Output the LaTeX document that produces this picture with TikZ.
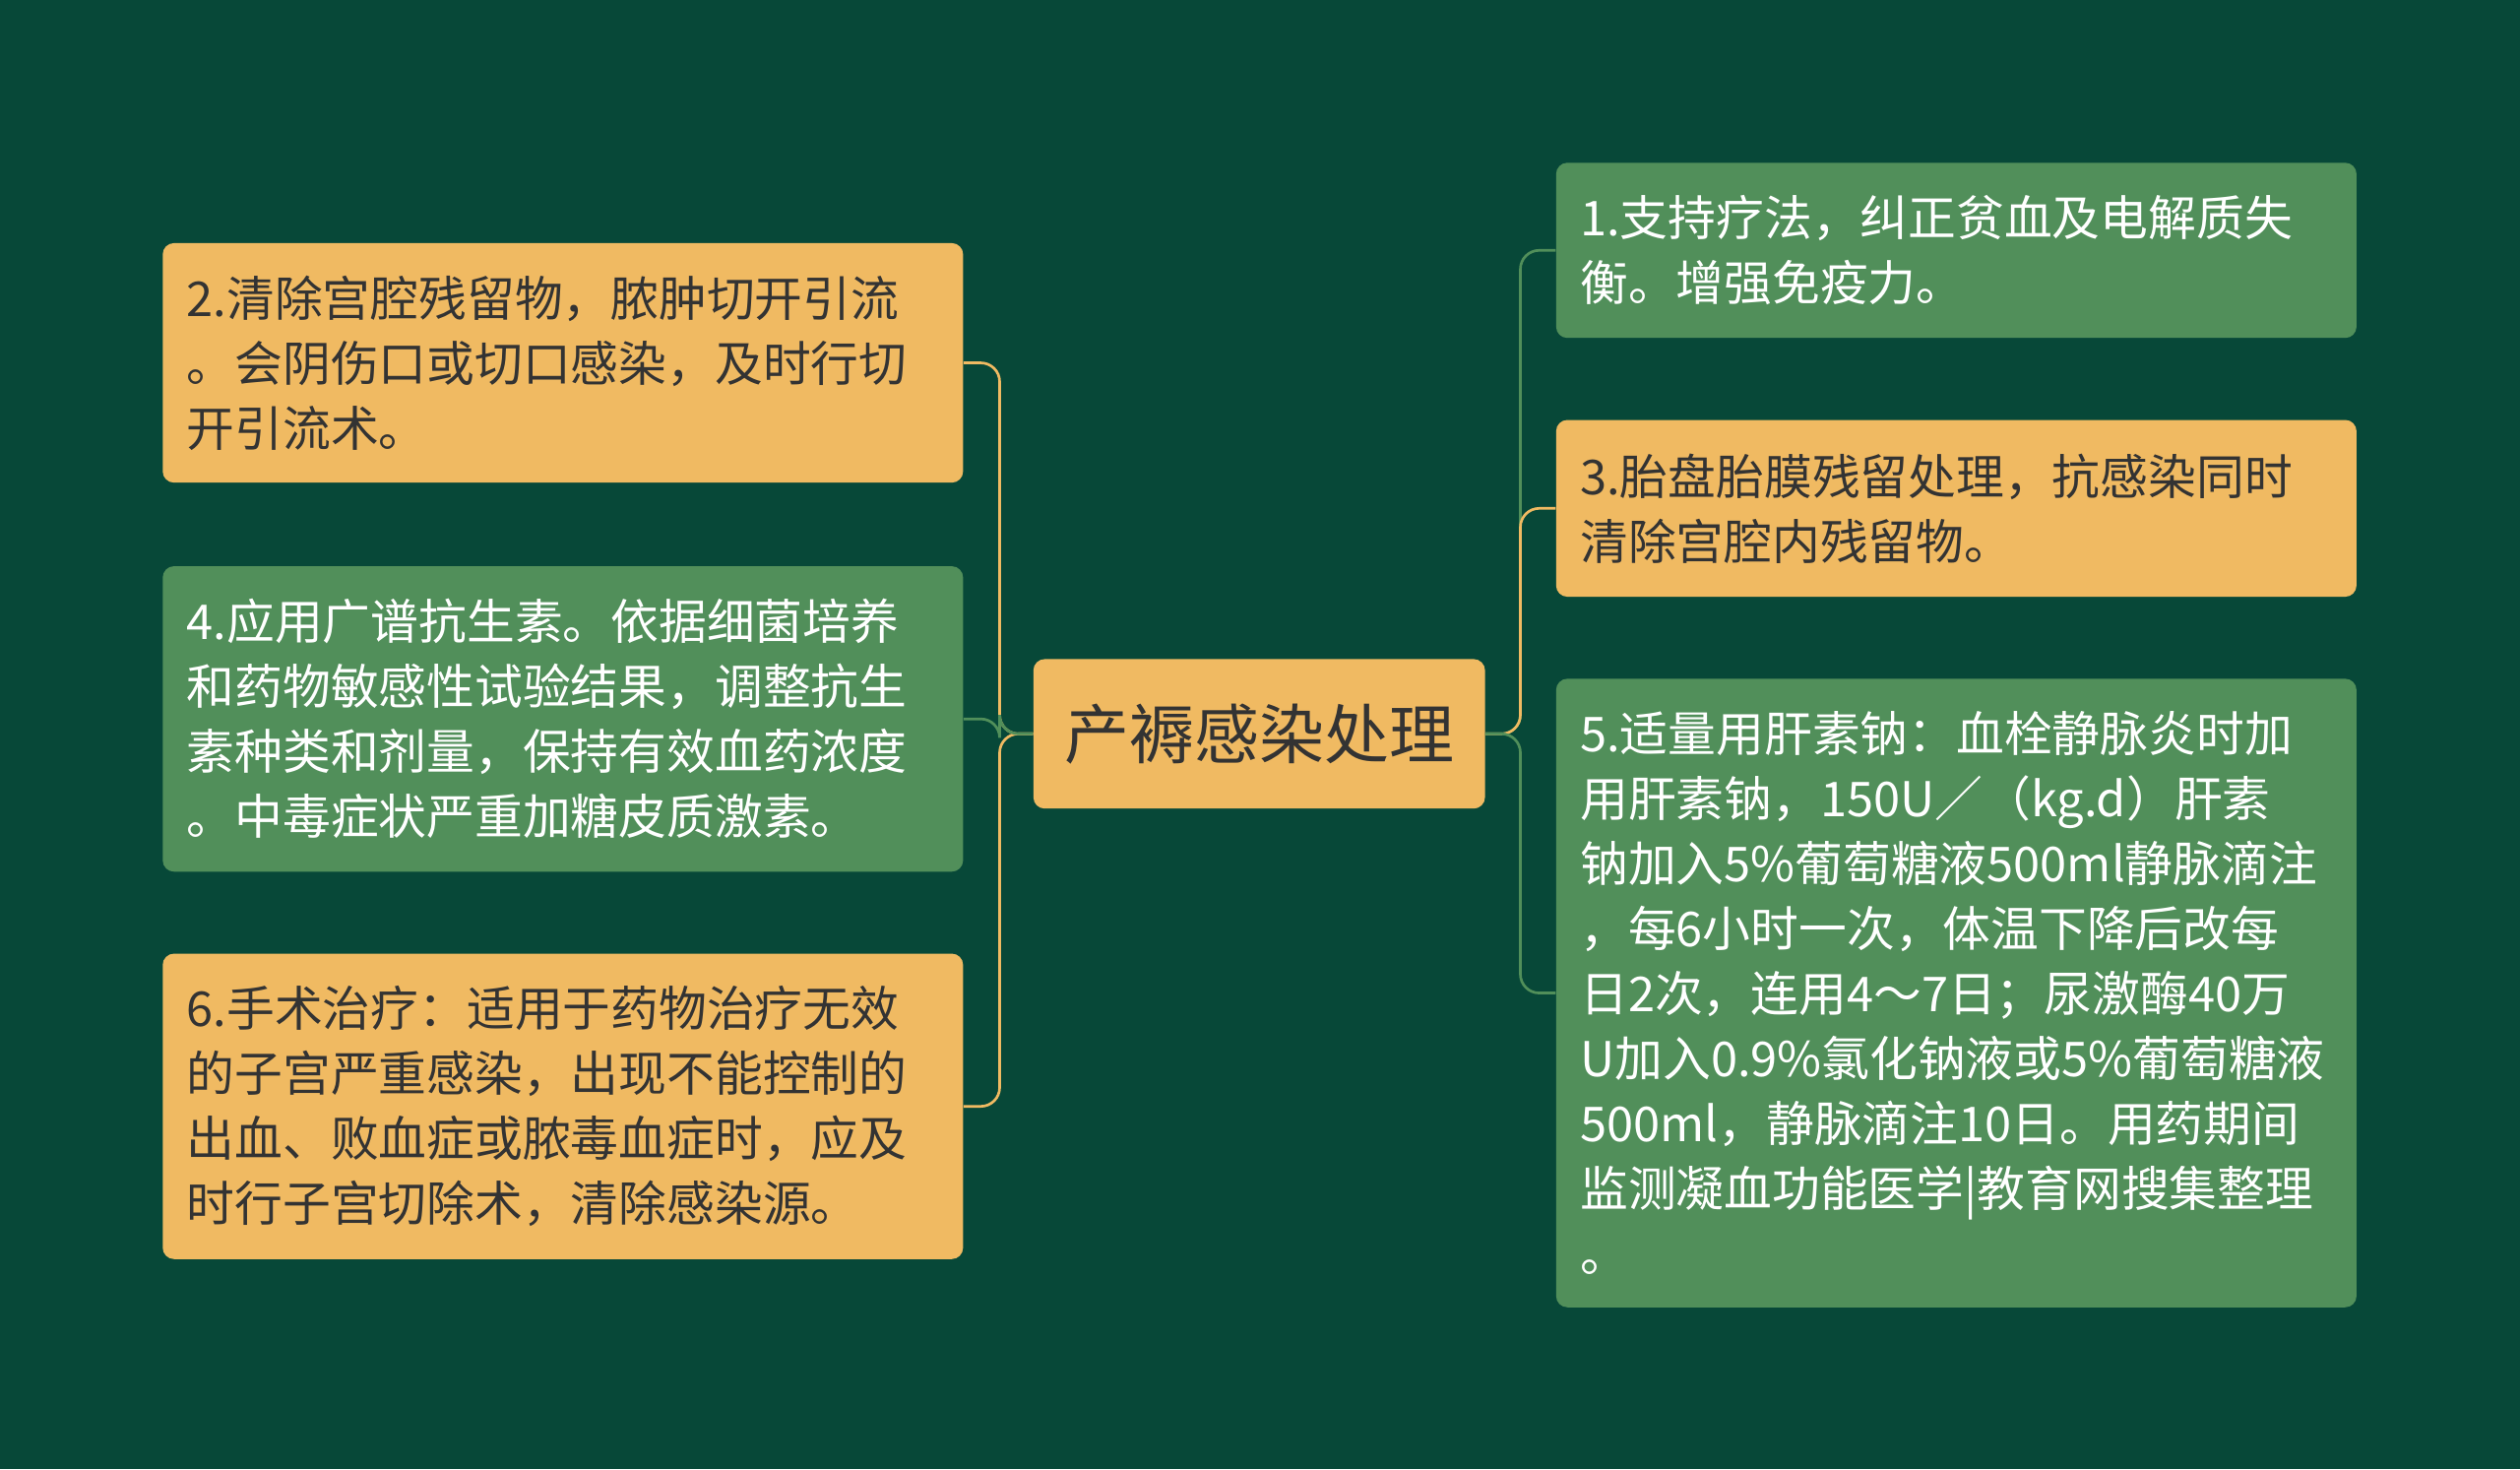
\documentclass[tikz,border=0pt]{standalone}
\usepackage{fontspec}
\newfontfamily\cjk{Noto Sans CJK SC}
\definecolor{bg}{HTML}{074838}
\definecolor{og}{HTML}{F0BA62}
\definecolor{gn}{HTML}{518F5A}
\definecolor{tx}{HTML}{333333}
\begin{document}
\begin{tikzpicture}[x=0.03cm,y=-0.03cm,
 box/.style={anchor=north west,rounded corners=6pt,inner xsep=0.45cm,inner ysep=0pt,text width=#1,align=left,font=\cjk\fontsize{25.5}{34.5}\selectfont},
 ob/.style={box=#1,fill=og,text=tx},
 gb/.style={box=#1,fill=gn,text=white},
 ol/.style={draw=og,line width=1.4pt,rounded corners=10pt},
 gl/.style={draw=gn,line width=1.4pt,rounded corners=10pt}]
\fill[bg] (0,0) rectangle (1568,914);
\useasboundingbox (0,0) rectangle (1568,914);
\node[fill=og,text=tx,rounded corners=6pt,minimum width=281*0.03cm,minimum height=93*0.03cm,font=\cjk\fontsize{34.5}{40}\selectfont] (c) at (783.5,456.5) {产褥感染处理};
\node[ob=14.04cm,minimum height=149*0.03cm] (l1) at (101,151) {2.清除宫腔残留物，脓肿切开引流\\。会阴伤口或切口感染，及时行切\\开引流术。};
\node[gb=14.04cm,minimum height=190*0.03cm] (l2) at (101,352) {4.应用广谱抗生素。依据细菌培养\\和药物敏感性试验结果，调整抗生\\素种类和剂量，保持有效血药浓度\\。中毒症状严重加糖皮质激素。};
\node[ob=14.04cm,minimum height=190*0.03cm] (l3) at (101,593) {6.手术治疗：适用于药物治疗无效\\的子宫严重感染，出现不能控制的\\出血、败血症或脓毒血症时，应及\\时行子宫切除术，清除感染源。};
\node[gb=14.04cm,minimum height=109*0.03cm] (r1) at (968,101) {1.支持疗法，纠正贫血及电解质失\\衡。增强免疫力。};
\node[ob=14.04cm,minimum height=110*0.03cm] (r2) at (968,261) {3.胎盘胎膜残留处理，抗感染同时\\清除宫腔内残留物。};
\node[gb=14.04cm,minimum height=391*0.03cm] (r3) at (968,422) {5.适量用肝素钠：血栓静脉炎时加\\用肝素钠，150U／（kg.d）肝素\\钠加入5\%葡萄糖液500ml静脉滴注\\，每6小时一次，体温下降后改每\\日2次，连用4～7日；尿激酶40万\\U加入0.9\%氯化钠液或5\%葡萄糖液\\500ml，静脉滴注10日。用药期间\\监测凝血功能医学|教育网搜集整理\\。};
\draw[ol] (c.west) -- (622,456.5) |- (l1.east);
\draw[ol] (c.west) -- (622,456.5) |- (l3.east);
\draw[gl] (c.west) -- (622,456.5) |- (l2.east);
\draw[gl] (c.east) -- (946,456.5) |- (r1.west);
\draw[ol] (c.east) -- (946,456.5) |- (r2.west);
\draw[gl] (c.east) -- (946,456.5) |- (r3.west);
\end{tikzpicture}
\end{document}
